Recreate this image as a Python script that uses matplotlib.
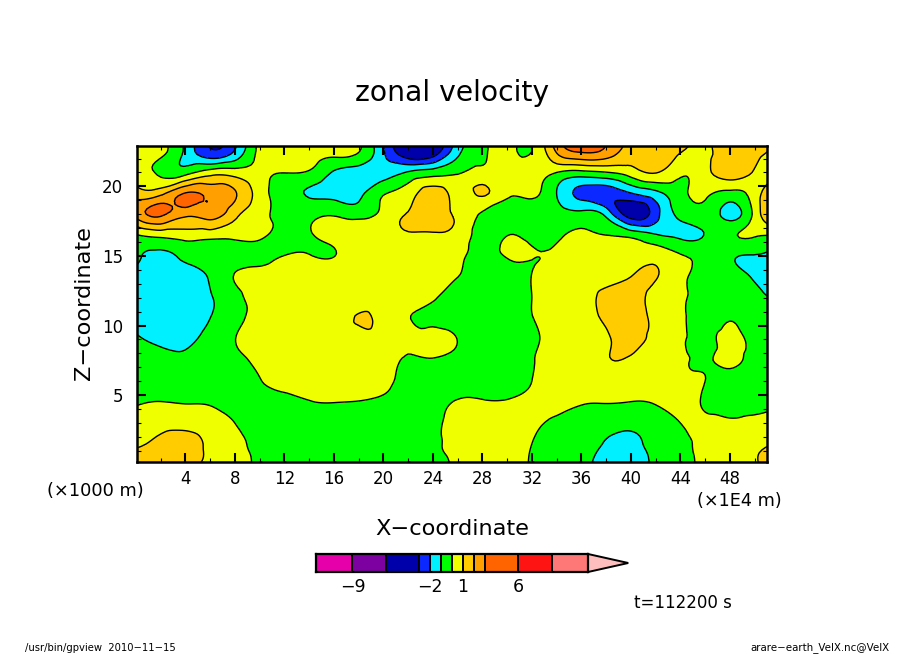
import matplotlib
matplotlib.use("Agg")
import matplotlib.pyplot as plt
import matplotlib.tri as mtri
import numpy as np
from matplotlib.colors import ListedColormap, BoundaryNorm
from matplotlib.patches import Polygon

W, H = 904, 654
x_km = [0,2,4,6,8,10,12,14,16,18,20,22,24,26,28,30,32,34,36,38,40,42,44,46,48,50,52]
z_km = [0,1.5,3,4.5,6,7.5,9,10.5,12,13.5,15,16.5,18,19.5,21,22.5,24]
u00 = [1.5,1.5,1.4,.7,.4,-.2,-.5,-.5,-.5,-.5,-.5,-.5,-.4,.2,.5,.5,-.1,-.6,-.8,-1.3,-1.5,-.8,-.4,.3,.6,.85,2.2]
u01 = [.9,1.2,1.4,.8,.3,-.3,-.5,-.6,-.6,-.6,-.6,-.5,-.2,.3,.5,.5,0,-.6,-.8,-1.05,-1.15,-.8,-.3,.3,.6,.8,1.0]
u02 = [.5,.7,.7,.5,0,-.5,-.6,-.7,-.7,-.7,-.7,-.6,-.3,.4,.5,.5,.3,-.3,-.6,-.7,-.8,-.6,0,.2,.1,.2,.3]
u03 = [-.1,.02,-.05,-.1,-.4,-.4,-.3,-.05,.02,-.05,-.2,-.4,-.4,.1,.1,.1,.3,.4,.1,.05,-.02,.1,.4,-.1,-.2,-.2,-.1]
u04 = [-.5,-.5,-.5,-.5,-.4,-.05,.3,.3,.5,.6,.2,-.2,-.5,-.6,-.6,-.6,0,.3,.5,.7,.7,.6,.3,0,-.3,-.4,-.3]
u05 = [-.5,-.75,-.85,-.5,-.2,.2,.6,.7,.8,.8,.4,-.1,-.1,-.4,-.7,-.5,-.05,.3,.6,.95,.9,.6,.2,-.1,.2,-.4,-.5]
u06 = [-.9,-1.15,-1.15,-.7,-.02,.5,.8,.8,.8,.8,.8,.2,.5,-.02,-.6,-.6,-.2,.4,.7,.9,1.3,.7,.2,-.3,.3,-.4,-.5]
u07 = [-1.1,-1.4,-1.4,-1.0,-.3,.4,.7,.7,.7,1.05,.7,.05,-.3,-.7,-.7,-.6,-.05,.4,.6,1.2,1.5,.8,.2,-.4,-.05,-.5,-.5]
u08 = [-1.2,-1.5,-1.5,-1.05,-.4,.6,.8,.8,.8,.8,.8,.5,.15,-.7,-.7,-.6,0,.5,.6,1.3,1.4,.7,.2,-.5,-.4,-.7,-1.2]
u09 = [-1.3,-1.5,-1.4,-.9,.05,.4,.6,.7,.7,.8,.8,.8,.6,.02,-.6,-.5,.02,.6,.7,.7,1,1.05,.3,-.4,-.6,-1.1,-1.5]
u10 = [-.8,-1.2,-.8,-.5,-.4,-.3,.02,.05,-.02,.6,.8,.8,.7,.4,-.5,.1,.05,.2,.6,.7,.7,.7,.1,-.3,-.85,-1.05,-1.2]
u11 = [-.05,.3,.5,.4,.3,.2,-.4,-.1,.3,.7,.8,.9,.9,.7,-.4,-.02,-.3,-.2,.2,0,-.3,-.9,-1.2,-.95,-.2,.1,-.1]
u12 = [2.3,3.2,2.3,2.5,1.3,.3,-.3,-.3,-.1,-.4,.3,1.1,1.6,.7,-.1,-.4,-.5,-.6,-.7,-1.3,-3.5,-2.4,-.7,-.4,-1.3,.3,3.0]
u13 = [1.5,1.7,3.05,2.7,2.1,.5,-.5,-1.1,-1.4,-1.3,-.1,.5,1.5,.7,1.12,.2,.2,-1.0,-2.3,-2.6,-2.05,-1.3,-.3,.2,-.3,.5,2.5]
u14 = [.5,-.2,-.4,.5,.5,.2,.02,-.1,-1.1,-1.4,-1.5,-.9,-.5,-.1,.3,.5,.5,0,-.3,-.05,.5,1.05,.2,.7,1.5,.9,.7]
u15 = [.3,.2,-1.2,-2.8,-1.9,.3,.9,.5,.3,.05,-1.9,-3.9,-3.7,-1.3,-.2,.3,0,2.1,3.1,2.7,1.5,1.2,1.05,.8,1.5,1.3,.8]
u16 = [.3,.2,-1.5,-2.9,-2.2,.3,1.2,.6,.3,.2,-2.2,-4.2,-4.0,-1.5,-.2,.3,-.2,2.4,3.6,3,1.8,1.4,1.0,.8,1.5,1.3,.8]
levels = [-12.3,-9,-6,-3,-2,-1,0,1,2,3,6,9,12.3]
colors = ['#E600AA','#7D00A0','#0000AA','#0A28FF','#00F0FF','#00FF00','#F0FF00',
          '#FFCC00','#FF9F00','#FF6400','#FF1414','#FF7878']
over_color = '#FFBEBE'
cbar_labels = {-9:'\u22129', -2:'\u22122', 1:'1', 6:'6'}

plt.rcParams['font.family'] = 'DejaVu Sans'
fig = plt.figure(figsize=(W/100, H/100), dpi=100)

def axpos(l, t, r, b):
    return [l/W, 1-b/H, (r-l)/W, (b-t)/H]
def txt(px, py, s, **kw):
    fig.text(px/W, 1-py/H, s, va='center', color='black', **kw)

ax = fig.add_axes(axpos(137, 146, 767, 462))
U = np.array([u00,u01,u02,u03,u04,u05,u06,u07,u08,u09,u10,u11,u12,u13,u14,u15,u16])
cmap = ListedColormap(colors)
cmap.set_over(over_color)
norm = BoundaryNorm(levels, cmap.N)
XX, ZZ = np.meshgrid(x_km, z_km)
tri = mtri.Triangulation(XX.ravel(), ZZ.ravel())
refiner = mtri.UniformTriRefiner(tri)
tri_f, U_f = refiner.refine_field(U.ravel(), subdiv=3)
ax.tricontourf(tri_f, U_f, levels=levels, cmap=cmap, norm=norm)
ax.tricontour(tri_f, U_f, levels=levels[1:-1], colors='black', linewidths=1.0, linestyles='solid')
ax.set_xlim(0.1, 51)
ax.set_ylim(0.2, 22.9)
ax.set_xticks(np.arange(4, 49, 4))
ax.set_xticks(np.arange(2, 51, 2), minor=True)
ax.set_yticks(np.arange(5, 21, 5))
ax.set_yticks(np.arange(1, 23, 1), minor=True)
ax.tick_params(which='major', direction='in', top=True, right=True, length=6.5, width=1.5,
               labelsize=12)
ax.tick_params(which='minor', direction='in', top=True, right=True, length=3.2, width=0.8)
ax.tick_params(axis='x', which='major', pad=6)
ax.tick_params(axis='y', which='major', pad=10)
for s in ax.spines.values():
    s.set_linewidth(1.8)

txt(452, 93, 'zonal velocity', ha='center', fontsize=20.3)
txt(452, 529, 'X\u2212coordinate', ha='center', fontsize=16.2)
txt(84, 303, 'Z\u2212coordinate', ha='center', rotation=90, fontsize=16.2)
txt(95.5, 491, '(\u00d71000 m)', ha='center', fontsize=12.8)
txt(739, 501, '(\u00d71E4 m)', ha='center', fontsize=12.7)
txt(683, 603, 't=112200 s', ha='center', fontsize=12)
txt(25, 648, '/usr/bin/gpview  2010\u221211\u221215', ha='left', fontsize=7.2)
txt(890, 648, 'arare\u2212earth_VelX.nc@VelX', ha='right', fontsize=7.4)

cax = fig.add_axes(axpos(316, 554, 588, 572))
mids = [(a+b)/2 for a, b in zip(levels[:-1], levels[1:])]
cax.pcolormesh(levels, [0, 1], [mids], cmap=cmap, norm=norm, edgecolors='black', linewidth=1.4)
cax.set_xlim(levels[0], levels[-1])
cax.set_ylim(0, 1)
cax.set_yticks([])
cax.set_xticks(list(cbar_labels), [cbar_labels[k] for k in cbar_labels], fontsize=12.5)
cax.tick_params(axis='x', length=0, pad=4.5)
for s in cax.spines.values():
    s.set_linewidth(1.6)
cax.add_patch(Polygon([(levels[-1], 0), (levels[-1], 1), (levels[-1]+3.64, 0.5)], closed=True,
                      facecolor=over_color, edgecolor='black', linewidth=1.4, clip_on=False))
fig.savefig('out.png', dpi=100)
